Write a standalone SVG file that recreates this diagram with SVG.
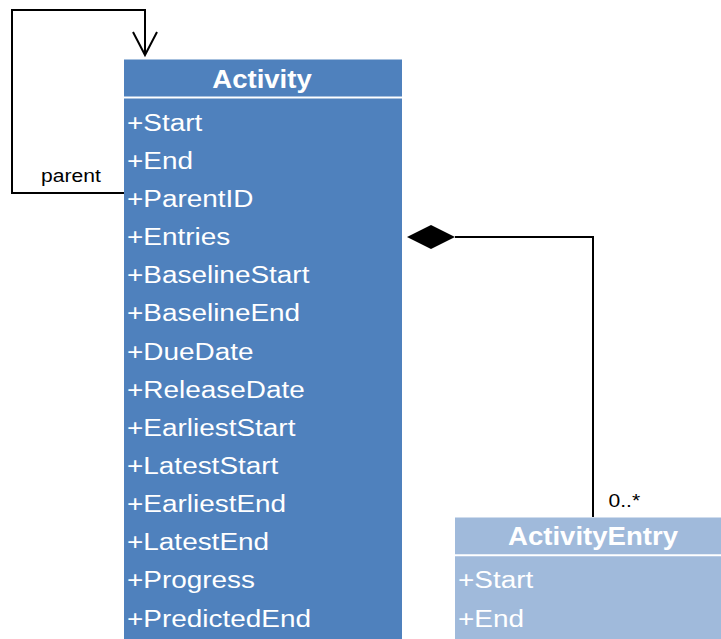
<svg xmlns="http://www.w3.org/2000/svg" width="721" height="639" viewBox="0 0 721 639">
<style>
.row{font-family:"Liberation Sans",Arial,sans-serif;font-size:24.5px;fill:#ffffff}
.title{font-family:"Liberation Sans",Arial,sans-serif;font-size:26px;font-weight:bold;fill:#ffffff;text-anchor:middle}
.lbl{font-family:"Liberation Sans",Arial,sans-serif;font-size:18.5px;fill:#000000}
.conn{fill:none;stroke:#000000;stroke-width:2}
.sep{stroke:#ffffff;stroke-width:2}
</style>
<rect width="721" height="639" fill="#ffffff"/>
<g id="connectors">
  <path class="conn" d="M124,193 H12 V10 H145 V55"/>
  <path class="conn" d="M133,32 L145,55 L157,32"/>
  <path class="conn" d="M455,237 H593 V517"/>
  <polygon points="407,237 431,225 455,237 431,249" fill="#000000"/>
  <text class="lbl" transform="matrix(1.14 0 0 1 41 182)">parent</text>
  <text class="lbl" transform="matrix(1.14 0 0 1 608.5 506.5)">0..*</text>
</g>
<g id="Activity">
  <rect x="124" y="59.5" width="278" height="590" fill="#4f81bd"/>
  <line class="sep" x1="124" y1="97.5" x2="402" y2="97.5"/>
  <text class="title" transform="matrix(1.06 0 0 1 262 87.5)">Activity</text>
  <g transform="matrix(1.14 0 0 1 127 0)">
    <text class="row" y="130.7">+Start</text>
    <text class="row" y="168.8">+End</text>
    <text class="row" y="207">+ParentID</text>
    <text class="row" y="245.1">+Entries</text>
    <text class="row" y="283.3">+BaselineStart</text>
    <text class="row" y="321.4">+BaselineEnd</text>
    <text class="row" y="359.6">+DueDate</text>
    <text class="row" y="397.7">+ReleaseDate</text>
    <text class="row" y="435.9">+EarliestStart</text>
    <text class="row" y="474">+LatestStart</text>
    <text class="row" y="512.2">+EarliestEnd</text>
    <text class="row" y="550.3">+LatestEnd</text>
    <text class="row" y="588.5">+Progress</text>
    <text class="row" y="626.7">+PredictedEnd</text>
  </g>
</g>
<g id="ActivityEntry">
  <rect x="455" y="517.5" width="280" height="130" fill="#a0badb"/>
  <line class="sep" x1="455" y1="555.3" x2="735" y2="555.3"/>
  <text class="title" transform="matrix(1.06 0 0 1 593 545)">ActivityEntry</text>
  <g transform="matrix(1.14 0 0 1 458 0)">
    <text class="row" y="588.5">+Start</text>
    <text class="row" y="626.7">+End</text>
  </g>
</g>
</svg>
